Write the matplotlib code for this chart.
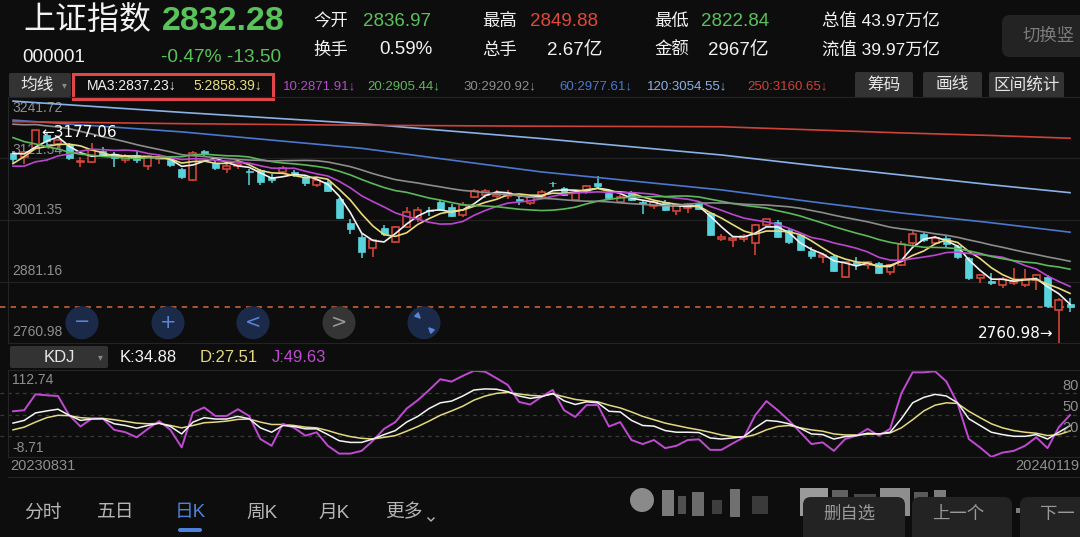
import matplotlib.pyplot as plt
import numpy as np
import pandas as pd
from matplotlib.patches import Rectangle, Circle, FancyBboxPatch

plt.rcParams['font.family'] = ['Liberation Sans', 'Noto Sans CJK SC', 'DejaVu Sans']

W, H = 1080, 537
BG = '#0d0d0d'
RED = '#e0493b'
CYAN = '#58d3dc'
GREEN = '#59c25a'
GRAY = '#8f8f8f'

# daily candles 2023-08-31 .. 2024-01-19
opens = [3131, 3124, 3141, 3166, 3150, 3150, 3114, 3115, 3136, 3130,
         3118, 3128, 3106, 3121, 3119, 3100, 3079, 3135, 3113, 3101,
         3106, 3097, 3098, 3086, 3094, 3095, 3086, 3070, 3076, 3042,
         2995, 2969, 2946, 2985, 2959, 2988, 3005, 3021, 3037, 3027,
         3011, 3047, 3050, 3048, 3049, 3043, 3034, 3047, 3074, 3064,
         3041, 3058, 3073, 3053, 3037, 3056, 3036, 3028, 3037, 3018,
         3025, 3034, 3015, 2964, 2962, 2964, 2956, 2992, 2998, 2982,
         2972, 2940, 2929, 2932, 2891, 2920, 2913, 2918, 2900, 2914,
         2956, 2975, 2956, 2966, 2950, 2927, 2889, 2882, 2875, 2878,
         2875, 2884, 2890, 2826, 2836.97]
highs = [3135, 3136, 3177.06, 3170, 3160, 3152, 3124, 3151, 3144, 3134,
         3130, 3135, 3128, 3127, 3122, 3102, 3135, 3138, 3118, 3110,
         3114, 3100, 3100, 3090, 3106, 3098, 3088, 3083, 3080, 3044,
         3004, 2975, 2965, 2991, 2990, 3027, 3027, 3026, 3040, 3032,
         3036, 3062, 3062, 3060, 3060, 3046, 3048, 3059, 3076, 3066,
         3058, 3070, 3087, 3060, 3050, 3058, 3038, 3038, 3040, 3031,
         3034, 3038, 3016, 2974, 2971, 2975, 2994, 3004, 3002, 2984,
         2975, 2948, 2938, 2934, 2920, 2930, 2922, 2920, 2916, 2960,
         2981, 2977, 2970, 2970, 2952, 2929, 2897, 2899, 2890, 2907,
         2906, 2897, 2894, 2850, 2849.88]
lows = [3113, 3110, 3138, 3145, 3142, 3118, 3105, 3112, 3125, 3105,
        3112, 3112, 3098, 3110, 3105, 3082, 3077, 3124, 3098, 3092,
        3100, 3069, 3070, 3074, 3090, 3085, 3068, 3066, 3055, 3003,
        2975, 2927, 2930, 2971, 2956, 2985, 2998, 3010, 3018, 3007,
        3008, 3044, 3045, 3045, 3042, 3030, 3030, 3043, 3066, 3048,
        3038, 3052, 3062, 3040, 3034, 3038, 3014, 3022, 3018, 3012,
        3015, 3020, 2970, 2960, 2949, 2958, 2933, 2988, 2966, 2955,
        2940, 2926, 2917, 2900, 2888, 2903, 2905, 2896, 2895, 2912,
        2953, 2958, 2952, 2948, 2925, 2885, 2878, 2874, 2868, 2875,
        2870, 2865, 2830, 2760.98, 2822.84]
closes = [3119.88, 3133.25, 3177.06, 3154.37, 3158.08, 3122.35, 3116.72, 3137.06, 3127.84, 3122.41,
          3126.55, 3117.74, 3125.93, 3124.25, 3108.57, 3084.70, 3132.43, 3130.65, 3102.27, 3107.32,
          3110.48, 3094.00, 3075.19, 3078.96, 3103.00, 3088.10, 3073.81, 3080.00, 3058.71, 3005.39,
          2983.06, 2939.29, 2962.24, 2974.11, 2988.30, 3017.78, 3021.55, 3018.77, 3023.08, 3009.41,
          3030.80, 3058.41, 3057.27, 3052.37, 3053.28, 3038.97, 3046.53, 3056.07, 3072.83, 3050.93,
          3054.37, 3068.32, 3067.93, 3043.61, 3047.00, 3040.97, 3031.70, 3036.00, 3021.69, 3029.67,
          3031.64, 3022.91, 2972.30, 2968.93, 2966.21, 2969.56, 2991.44, 3003.05, 2968.76, 2958.99,
          2942.56, 2930.80, 2932.39, 2902.11, 2918.71, 2914.78, 2918.81, 2898.87, 2914.61, 2954.70,
          2974.93, 2962.28, 2967.25, 2954.35, 2929.18, 2887.54, 2893.25, 2877.70, 2886.65, 2881.98,
          2886.29, 2893.99, 2833.62, 2845.78, 2832.28]
# closes before the window (needed for the short moving averages)
prior_closes = [3169.52, 3167.75, 3164.16, 3231.52, 3223.13, 3216.67, 3275.93, 3291.04, 3290.95, 3261.69,
                3280.46, 3288.08, 3268.83, 3260.62, 3244.49, 3254.56, 3189.25, 3178.43, 3176.18, 3150.13,
                3163.74, 3131.95, 3092.98, 3120.33, 3078.40, 3082.24, 3064.07, 3098.64, 3135.89, 3137.14]

# long moving averages read at a few candles
long_idx = [0, 15, 31, 47, 63, 71, 79, 87, 94]
ma60_pts = [3196, 3173, 3141, 3095, 3060, 3037, 3015, 2996, 2977.61]
ma120_pts = [3233, 3211, 3189, 3160, 3128, 3108, 3089, 3070, 3054.55]
ma250_pts = [3193, 3189, 3186, 3184, 3183, 3177, 3171, 3166, 3160.65]

# KDJ
k_vals = [38.4, 42.2, 52.6, 55.4, 57.8, 49.3, 42.2, 44.1, 44.5, 37.5, 35.1, 31.3, 35.1, 38.4, 33.7, 23.3,
          39.8, 46.0, 44.1, 44.1, 47.8, 44.5, 31.8, 25.7, 35.1, 33.7, 30.4, 30.4, 22.4, 13.9, 11.5, 11.5,
          16.2, 22.4, 28.0, 39.8, 47.8, 58.7, 66.7, 69.1, 76.2, 84.6, 86.1, 85.6, 82.3, 76.2, 72.9,
          75.2, 79.9, 69.5, 64.4, 68.1, 66.7, 54.9, 54.0, 42.2, 35.1, 34.2, 28.0, 25.7, 25.7, 25.2, 17.7,
          16.2, 17.7, 19.6, 31.8, 42.2, 40.8, 37.5, 31.3, 23.3, 22.4, 16.2, 19.6, 21.0, 24.3, 23.3, 25.7,
          44.5, 66.7, 74.3, 78.5, 76.2, 66.7, 44.5, 35.1, 25.7, 22.4, 20.0, 20.0, 22.4, 16.2, 25.7, 34.88]
d_vals = [29.0, 32.8, 39.8, 46.0, 49.3, 48.8, 46.0, 45.0, 45.0, 43.1, 40.8, 38.4, 37.5, 38.0, 35.1, 31.8,
          35.1, 38.9, 39.8, 41.2, 43.6, 44.1, 39.8, 36.5, 36.5, 35.1, 32.8, 31.8, 28.0, 23.3, 19.6, 17.2,
          16.2, 18.6, 21.0, 27.1, 33.7, 41.2, 49.3, 55.4, 62.0, 70.5, 76.2, 79.9, 81.3, 79.0, 77.1,
          76.2, 79.0, 75.2, 71.4, 69.5, 68.1, 63.4, 59.6, 54.0, 47.8, 43.1, 38.4, 35.1, 31.8, 29.0, 25.7,
          21.9, 19.6, 18.6, 22.4, 29.0, 33.7, 35.1, 31.8, 29.0, 27.1, 23.3, 21.9, 21.9, 22.9, 23.3, 24.7,
          31.8, 43.1, 55.4, 63.4, 66.7, 65.8, 54.9, 46.0, 37.5, 31.8, 28.0, 25.7, 24.3, 21.0, 22.4, 27.51]
j_vals = [54.9, 56.4, 78.6, 77.2, 76.2, 49.3, 33.7, 44.6, 44.6, 29.0, 25.7, 18.6, 30.4, 41.2, 29.0, 4.5,
          53.1, 60.2, 48.4, 48.4, 57.8, 48.4, 16.2, 6.8, 37.4, 31.8, 20.9, 25.6, 6.8, -4.1, -4.1, -0.3,
          13.8, 30.4, 39.8, 58.6, 70.4, 84.5, 99.6, 96.3, 104.3, 111.4, 110.0, 101.0, 91.6, 68.0, 64.3,
          75.2, 84.7, 56.4, 47.0, 63.5, 63.5, 33.7, 39.8, 14.8, 9.2, 14.8, 3.5, 6.8, 14.8, 15.8, 1.1,
          1.1, 10.1, 18.6, 49.3, 69.1, 56.4, 42.2, 25.7, 9.2, 11.5, -0.3, 16.2, 20.9, 30.4, 20.9, 30.4,
          79.9, 109.2, 109.2, 110.6, 96.5, 65.8, 16.2, 4.4, -8.7, -2.7, -0.3, 6.8, 18.6, 3.5, 32.8, 49.63]

ma_windows = [3, 5, 10, 20, 30]
ma_colors = ['#f2f2f2', '#e8dc7c', '#bb47d0', '#5cb85a', '#8c8c8c']
long_colors = ['#4b78cc', '#8ab2e6', '#cf4238']

n = len(closes)
xs = np.arange(n)
step = 11.245
x0 = 13

fig = plt.figure(figsize=(W / 100, H / 100), dpi=100, facecolor=BG)

# ---------------- price panel
p_top, p_bot = 96.6, 343.4
ax = fig.add_axes([0, 1 - p_bot / H, 1, (p_bot - p_top) / H], zorder=2)
ax.set_facecolor('none')
ax.set_xlim(-x0 / step, (W - x0) / step)
ax.set_ylim(2760.98, 3241.72)
ax.axis('off')

levels = [3241.72, 3121.54, 3001.35, 2881.16, 2760.98]
for lv in levels[1:-1]:
    ax.axhline(lv, color='#222222', lw=0.9, zorder=0)
for lv, yy in zip(levels, [108, 150, 210, 271, 332]):
    ax.text(12 / W, 1 - (yy - p_top) / (p_bot - p_top), f'{lv:.2f}', transform=ax.transAxes,
            color=GRAY, fontsize=10, va='center', ha='left', zorder=0.5)

ax.axhline(closes[-1], color='#d66a3c', lw=1.1, ls=(0, (3.5, 3.5)), zorder=1)

bw = 0.62
for i in range(n):
    o, h, l, c = opens[i], highs[i], lows[i], closes[i]
    top, bot = max(o, c), min(o, c)
    if c >= o:
        ax.vlines(i, top, h, color=RED, lw=1.1, zorder=2)
        ax.vlines(i, l, bot, color=RED, lw=1.1, zorder=2)
        ax.add_patch(Rectangle((i - bw / 2, bot), bw, max(top - bot, 0.8), facecolor=BG,
                               edgecolor=RED, lw=1.1, zorder=2))
    else:
        ax.vlines(i, l, h, color=CYAN, lw=1.1, zorder=2)
        ax.add_patch(Rectangle((i - bw / 2, bot), bw, max(top - bot, 1.2), facecolor=CYAN,
                               edgecolor=CYAN, lw=0.5, zorder=2))

series = pd.Series(prior_closes + closes)
for win, col in zip(ma_windows, ma_colors):
    ma = series.rolling(win).mean().iloc[len(prior_closes):].values
    ax.plot(xs, ma, color=col, lw=1.2, zorder=3)
for pts, col in zip([ma60_pts, ma120_pts, ma250_pts], long_colors):
    ax.plot(long_idx, pts, color=col, lw=1.2, zorder=3)

imax = int(np.argmax(highs))
imin = int(np.argmin(lows))
ax.annotate(f'\u2190{highs[imax]:.2f}', xy=(imax, highs[imax]), xytext=(4, -2),
            textcoords='offset points', color='white', fontsize=11, va='center', ha='left',
            family=['DejaVu Sans'], zorder=4)
ax.annotate(f'{lows[imin]:.2f}\u2192', xy=(imin, lows[imin]), xytext=(-4, 7),
            textcoords='offset points', color='white', fontsize=11, va='center', ha='right',
            family=['DejaVu Sans'], zorder=4)

# ---------------- KDJ panel
k_top, k_bot = 369.8, 456.9
kx = fig.add_axes([0, 1 - k_bot / H, 1, (k_bot - k_top) / H], zorder=2)
kx.set_facecolor('none')
kx.set_xlim(-x0 / step, (W - x0) / step)
kx.set_ylim(-8.71, 112.74)
kx.axis('off')
for lv in [80, 50, 20]:
    kx.axhline(lv, color='#3a3a3a', lw=0.9, ls=(0, (3, 3)), zorder=0)
kx.plot(xs, d_vals, color='#e3da80', lw=1.1, zorder=2)
kx.plot(xs, k_vals, color='#f4f4f4', lw=1.1, zorder=3)
kx.plot(xs, j_vals, color='#c04ad2', lw=1.4, zorder=2)

# ---------------- overlay (header, buttons, labels)
ov = fig.add_axes([0, 0, 1, 1], zorder=5)
ov.set_xlim(0, W)
ov.set_ylim(H, 0)
ov.axis('off')
ov.patch.set_alpha(0)


def txt(x, y, s, size, color, ha='left', weight='normal'):
    ov.text(x, y, s, fontsize=size, color=color, ha=ha, va='center', fontweight=weight)


def box(x, y, w, h, color, r=4):
    ov.add_patch(FancyBboxPatch((x, y), w, h, boxstyle=f'round,pad=0,rounding_size={r}',
                                facecolor=color, edgecolor='none'))


# frame lines
for yy in [p_top, p_bot, k_top, k_bot, 477]:
    ov.plot([8, W], [yy, yy], color='#242424', lw=0.8)
ov.plot([8, 8], [p_top, p_bot], color='#242424', lw=0.8)
ov.plot([8, 8], [k_top, k_bot], color='#242424', lw=0.8)

# header
txt(23, 22, '上证指数', 23, '#f2f2f2')
txt(162, 21, '2832.28', 24.5, GREEN, weight='bold')
txt(22, 58, '000001', 13.5, '#f2f2f2')
txt(161, 58, '-0.47% -13.50', 13.8, GREEN)
txt(313, 21, '今开', 12.5, '#f2f2f2')
txt(363, 21, '2836.97', 13.5, GREEN)
txt(313, 50, '换手', 12.5, '#f2f2f2')
txt(379, 50, '0.59%', 13.5, '#f2f2f2')
txt(482, 21, '最高', 12.5, '#f2f2f2')
txt(530, 21, '2849.88', 13.5, RED)
txt(482, 50, '总手', 12.5, '#f2f2f2')
txt(547, 50, '2.67亿', 13.5, '#f2f2f2')
txt(654, 21, '最低', 12.5, '#f2f2f2')
txt(701, 21, '2822.84', 13.5, GREEN)
txt(654, 50, '金额', 12.5, '#f2f2f2')
txt(708, 50, '2967亿', 13.5, '#f2f2f2')
txt(822, 21, '总值 43.97万亿', 12.5, '#f2f2f2')
txt(822, 50, '流值 39.97万亿', 12.5, '#f2f2f2')
box(1002, 15, 90, 42, '#232323', r=8)
txt(1023, 36, '切换竖', 12.5, '#7c7c7c')

# MA legend row
box(9, 73, 62, 24, '#333333', r=2)
txt(20, 85, '均线', 12, '#e6e6e6')
txt(62, 85, '\u25be', 7, '#888888')
ov.add_patch(Rectangle((73, 73.5), 200, 25, facecolor='none', edgecolor='#e2464a', lw=2.2))
legend_items = [(87, 'MA3:2837.23\u2193'), (193, '5:2858.39\u2193'), (283, '10:2871.91\u2193'),
                (367, '20:2905.44\u2193'), (463, '30:2920.92\u2193'), (559, '60:2977.61\u2193'),
                (647, '120:3054.55\u2193'), (747, '250:3160.65\u2193')]
for k, ((lx, lab), col) in enumerate(zip(legend_items, ma_colors + long_colors)):
    txt(lx, 86, lab, 10 if k < 2 else 9.5, col)
for bx, bwid, lab in [(855, 58, '筹码'), (923, 59, '画线'), (989, 75, '区间统计')]:
    box(bx, 72, bwid, 26, '#333333', r=2)
    txt(bx + bwid / 2, 85, lab, 12, '#e6e6e6', ha='center')

# zoom buttons
for cx, glyph, fc, gc in [(82, '\u2212', '#1d2c4d', '#5a86d8'), (168, '+', '#1d2c4d', '#5a86d8'),
                          (253, '<', '#1d2c4d', '#5a86d8'), (339, '>', '#383838', '#9a9a9a'),
                          (424, '', '#1d2c4d', '#5a86d8')]:
    ov.add_patch(Circle((cx, 322.7), 16.5, facecolor=fc, edgecolor='none', alpha=0.95))
    if glyph:
        ov.text(cx, 322, glyph, fontsize=14, color=gc, ha='center', va='center', family='DejaVu Sans')
ov.annotate('', xy=(423, 321), xytext=(416, 314),
            arrowprops=dict(arrowstyle='-|>', color='#5a86d8', lw=1.2, mutation_scale=8))
ov.annotate('', xy=(426, 325), xytext=(433, 332),
            arrowprops=dict(arrowstyle='-|>', color='#5a86d8', lw=1.2, mutation_scale=8))

# KDJ row
box(10, 346, 98, 22, '#333333', r=2)
txt(59, 357, 'KDJ', 12, '#e6e6e6', ha='center')
txt(98, 357, '\u25be', 7, '#888888')
txt(120, 357, 'K:34.88', 12, '#f2f2f2')
txt(200, 357, 'D:27.51', 12, '#e3da80')
txt(272, 357, 'J:49.63', 12, '#c04ad2')
txt(12, 380, '112.74', 10, GRAY)
txt(12, 448, '-8.71', 10, GRAY)
for lv, yy in [(80, 386), (50, 407), (20, 428)]:
    txt(1079, yy, str(lv), 10.5, GRAY, ha='right')
txt(10, 466, '20230831', 10.5, GRAY)
txt(1079, 466, '20240119', 10.5, GRAY, ha='right')

# bottom tabs
for tx, lab, col in [(24, '分时', '#b5b5b5'), (97, '五日', '#b5b5b5'), (175, '日K', '#4d82da'),
                     (246, '周K', '#b5b5b5'), (318, '月K', '#b5b5b5'), (385, '更多', '#b5b5b5')]:
    txt(tx, 513, lab, 13.5, col)
ov.plot([428, 431, 434], [518, 521, 518], color='#b5b5b5', lw=1)
box(178, 528, 24, 4, '#4d82da', r=2)

# blurred watermark
ov.add_patch(Circle((642, 500), 12, facecolor='#8a8a8a', edgecolor='none'))
for bx, by, bwid, bh, bc in [(662, 490, 12, 26, '#7a7a7a'), (678, 496, 8, 18, '#505050'),
                             (692, 492, 12, 24, '#6c6c6c'), (712, 500, 10, 14, '#3e3e3e'),
                             (730, 489, 10, 28, '#707070'), (752, 496, 16, 18, '#3a3a3a'),
                             (800, 488, 28, 28, '#9a9a9a'), (832, 490, 16, 24, '#626262'),
                             (854, 494, 22, 22, '#484848'), (880, 488, 30, 28, '#8e8e8e'),
                             (914, 492, 14, 22, '#5a5a5a'), (934, 490, 12, 26, '#7c7c7c'),
                             (956, 504, 12, 10, '#a2a2a2'), (988, 507, 22, 6, '#8c8c8c'),
                             (1016, 508, 30, 5, '#7c7c7c')]:
    ov.add_patch(Rectangle((bx, by), bwid, bh, facecolor=bc, edgecolor='none'))

for bx, bwid, lab in [(803, 102, '删自选'), (912, 100, '上一个'), (1020, 90, '下一')]:
    box(bx, 497, bwid, 50, '#232323', r=8)
    txt(bx + 20, 514, lab, 12.5, '#9a9a9a')

fig.savefig('out.png', dpi=100, facecolor=BG)
